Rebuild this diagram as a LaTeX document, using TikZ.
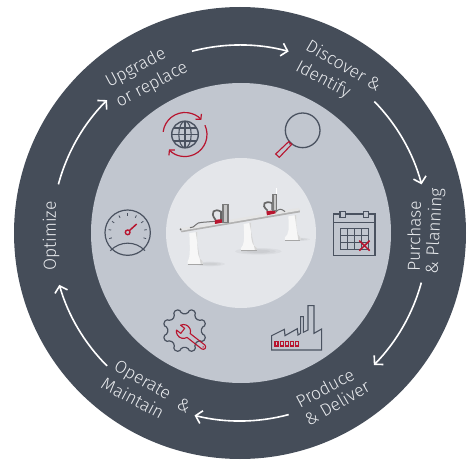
\documentclass[tikz,border=0pt]{standalone}
\usepackage{fontspec}
\setmainfont{Fira Sans Light}
\usetikzlibrary{arrows.meta,calc}
\definecolor{ringdark}{HTML}{454D59}
\definecolor{ringmid}{HTML}{C1C6CF}
\definecolor{ringlight}{HTML}{E4E6EA}
\definecolor{iconred}{HTML}{B8152F}
\definecolor{icongrey}{HTML}{4A5260}
\definecolor{labelc}{HTML}{E9EBEE}
\tikzset{
  lab/.style={text=labelc,font=\fontsize{17.5}{17.5}\selectfont,inner sep=0pt,anchor=center},
  cyc/.style={draw=white,line width=1.6pt,-{Straight Barb[length=6pt,width=13pt,line width=1.6pt]}},
  gline/.style={draw=icongrey,line width=1.1pt},
  rline/.style={draw=iconred,line width=1.1pt},
  zoomed/.style={shift={#1},scale=0.33333},
}
\begin{document}
\begin{tikzpicture}[x=1pt,y=-1pt]
\useasboundingbox (0,0) rectangle (467,460);
\fill[ringdark] (240,233) circle[radius=226];
\fill[ringmid] (241,233) circle[radius=150];
\fill[ringlight] (241,233) circle[radius=75];
% cycle arrows
\coordinate (c) at (240,233);
\foreach \a/\b in {104.8/75,44.4/15,-15.3/-44.6,-75/-104,-135/-164,165/135}{
  \draw[cyc] ($(c)+({188*cos(\a)},{188*sin(-\a)})$) arc[start angle=-\a,delta angle={\a-\b},radius=188];
}
% labels
\node[lab,rotate=28] (t1) at (136,68) {Upgrade};
\node[lab,rotate=28] (t2) at (152,85) {or replace};
\node[lab,rotate=-30] (t3) at (344,65) {Discover \&};
\node[lab,rotate=-28] (t4) at (323,80) {Identify};
\node[lab,rotate=89] (t5) at (414,236) {Purchase};
\node[lab,rotate=87] (t6) at (435,231) {\& Planning};
\node[lab,rotate=28] (t7) at (325,388) {Produce};
\node[lab,rotate=30] (t8) at (337,403) {\& Deliver};
\node[lab,rotate=-30] (t9) at (142,381) {Operate};
\node[lab,rotate=-30] (t10) at (184,405) {\&};
\node[lab,rotate=-28] (t11) at (133,398) {Maintain};
\node[lab,rotate=90] (t12) at (51,236) {Optimize};
% globe icon
\begin{scope}[shift={(185,134.5)}]
  \draw[gline,line width=1.4pt] (0,0) circle[radius=13.3];
  \draw[gline] (0,0) ellipse[x radius=6.2,y radius=13.3];
  \draw[gline] (0,-13.3) -- (0,13.3);
  \draw[gline] (-13.3,0) -- (13.3,0);
  \draw[gline] (-11.5,-6.5) -- (11.5,-6.5);
  \draw[gline] (-11.5,6.5) -- (11.5,6.5);
  \draw[rline,line width=1.2pt,-{Straight Barb[length=3.5pt,width=8pt,line width=1.2pt]}] (-173:22) arc[start angle=-173,end angle=-42,radius=22];
  \draw[rline,line width=1.2pt,-{Straight Barb[length=3.5pt,width=8pt,line width=1.2pt]}] (-25:22) arc[start angle=-25,end angle=137,radius=22];
\end{scope}
% magnifier icon
\begin{scope}[zoomed={(240,90)}]
  \draw[gline,line width=1.3pt] (188,121) circle[radius=52];
  \draw[gline] (153,158) -- (148,163);
  \draw[rline] (146,155) -- (155,163) -- (118,202) -- (107,192) -- cycle;
\end{scope}
% calendar icon
\begin{scope}[zoomed={(240,90)}]
  \draw[gline] (281,372) rectangle (405,496);
  \draw[gline] (281,398) -- (405,398);
  \draw[gline,fill=ringmid] (300,364) rectangle (316,382);
  \draw[gline,fill=ringmid] (370,364) rectangle (386,382);
  \draw[gline,line width=1pt] (302,416) rectangle (386,478);
  \foreach \x in {323,344,365} \draw[gline,line width=.9pt] (\x,416) -- (\x,478);
  \foreach \y in {437,457} \draw[gline,line width=.9pt] (302,\y) -- (386,\y);
  \draw[rline,line width=1.5pt] (358,452) -- (389,482) (389,452) -- (358,482);
\end{scope}
% gauge icon
\begin{scope}[zoomed={(95,200)}]
  \draw[gline,line width=1.2pt] (98,98) circle[radius=68];
  \foreach \a in {-198,-171,-144,-117,-90,-63,-36,-9,18}
    \draw[gline,line width=.8pt] ($(98,98)+(\a:50)$) -- ($(98,98)+(\a:58)$);
  \draw[gline,line width=1.1pt] (46,152) .. controls (75,122) and (122,122) .. (150,152);
  \draw[rline,line width=1.5pt] (103,92) -- (125,72);
  \draw[rline,line width=1.4pt] (98,97) circle[radius=7];
\end{scope}
% gear icon
\begin{scope}[shift={(184.6,330.6)}]
  \draw[gline,line width=1.2pt,rounded corners=1.6pt] (9.5:17)
    \foreach \a in {22.5,67.5,112.5,157.5,202.5,247.5,292.5,337.5}{
      -- (\a-13:17) -- (\a-8:22) -- (\a+8:22) -- (\a+13:17)
    } -- cycle;
\end{scope}
% wrench icon
\begin{scope}[shift={(183.5,331.5)},rotate=-38]
  \draw[rline,line join=round] (6.4,-2.5) -- (25,-2.5) arc[start angle=-90,end angle=90,radius=2.5] -- (6.4,2.5)
    arc[start angle=21,end angle=153,radius=7] -- (-1,3.2) -- (-1,-3.2) -- (-6.2,-3.2)
    arc[start angle=-153,end angle=-21,radius=7] -- cycle;
  \fill[iconred] (25,0) circle[radius=.8];
\end{scope}
% factory icon
\begin{scope}[zoomed={(140,270)}]
  \draw[gline,line join=miter] (395,240) -- (395,197) -- (433,178) -- (435,197) -- (472,176) -- (474,195) -- (482,190) -- (482,140) -- (490,140) -- (490,187) -- (504,180) -- (504,107) -- (522,107) -- (522,190) -- (545,177) -- (545,240) -- cycle;
  \foreach \x in {405,420.5,436,451.5,467}
    \draw[rline,line width=1.2pt] (\x,214) rectangle (\x+9,228);
\end{scope}
% gantry robot
\begin{scope}[zoomed={(165,180)}]
  \foreach \r in {1,.75,.5}{
    \fill[black,opacity=.03] (135,252) ellipse[x radius=45*\r,y radius=7*\r];
    \fill[black,opacity=.035] (280,214) ellipse[x radius=70*\r,y radius=10*\r];
    \fill[black,opacity=.03] (400,178) ellipse[x radius=35*\r,y radius=5*\r];
  }
  % legs
  \foreach \ta/\tb/\ba/\bb/\yb in {73/97/68/113/252,236/258/228/276/212,370/394/360/406/180}{
    \fill[white!94!gray] (\ta,172-\ta*0.17) .. controls (\ta+3,\yb-28) and (\ta+1,\yb-18) .. (\ba,\yb-8) -- (\ba,\yb) -- (\bb,\yb) -- (\bb,\yb-8) .. controls (\tb+2,\yb-18) and (\tb,\yb-28) .. (\tb,172-\tb*0.17) -- cycle;
    \fill[black!16] (\tb-5,172-\tb*0.17) -- (\tb,172-\tb*0.17) .. controls (\tb,\yb-28) and (\tb+2,\yb-18) .. (\bb,\yb-8) -- (\bb,\yb) -- (\bb-6,\yb) -- cycle;
    \draw[black!35,line width=.5pt] (\ba,\yb) -- (\bb,\yb);
  }
  % beam
  \fill[black!30] (46,150) -- (405,89) -- (405,97) -- (50,157) -- cycle;
  \fill[black!10] (46,145) -- (400,84) -- (407,91) -- (50,152) -- cycle;
  \fill[black!60] (47,148) circle[radius=3];
  % robot one
  \draw[black!55,line width=1pt] (75,143) .. controls (90,145) and (92,125) .. (112,127) -- (150,124);
  \fill[iconred] (150,120) -- (177,116) -- (177,127) -- (150,132) -- cycle;
  \draw[black!60,line width=1.7pt] (152,120) .. controls (132,95) and (150,84) .. (168,95) -- (168,118);
  \fill[black!52] (172,72) rectangle (191,128);
  \fill[black!22] (177,74) rectangle (185,126);
  % robot two
  \fill[white] (332,25) -- (336,25) -- (336,45) -- (332,45) -- cycle;
  \fill[iconred] (304,94) -- (332,90) -- (332,100) -- (306,106) -- cycle;
  \draw[black!60,line width=1.7pt] (308,92) .. controls (284,72) and (302,60) .. (322,70) -- (322,90);
  \fill[black!52] (322,42) rectangle (337,92);
  \fill[black!22] (326,44) rectangle (332,90);
  \draw[black!55,line width=1pt] (332,97) .. controls (342,84) and (350,86) .. (360,95);
\end{scope}
\end{tikzpicture}
\end{document}
